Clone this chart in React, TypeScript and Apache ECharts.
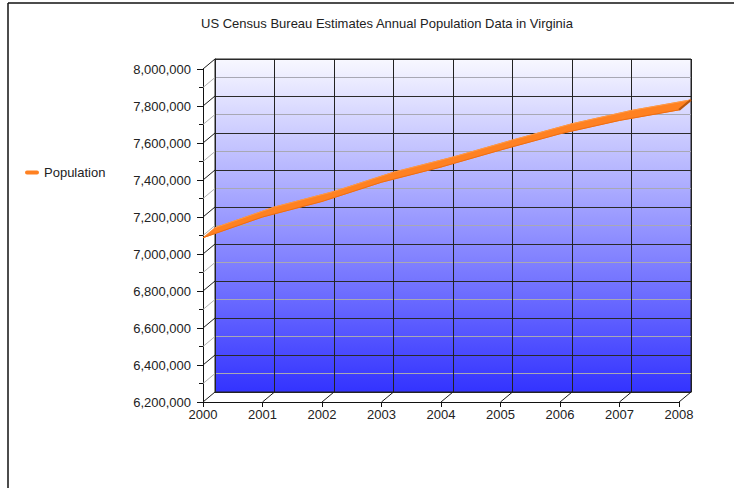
import React, { useEffect, useRef } from "react";
import * as echarts from "echarts";

const years = ["2000", "2001", "2002", "2003", "2004", "2005", "2006", "2007", "2008"];
const population = [7088000, 7200000, 7284000, 7388000, 7470000, 7562000, 7650000, 7722000, 7779000];
const yMin = 6200000;
const yMax = 8000000;
const yStep = 200000;
const wallTickValues = [
  6200000, 6300000, 6400000, 6500000, 6600000, 6700000, 6800000, 6900000, 7000000, 7100000,
  7200000, 7300000, 7400000, 7500000, 7600000, 7700000, 7800000, 7900000, 8000000,
];
const title = "US Census Bureau Estimates Annual Population Data in Virginia";
const seriesName = "Population";

const FONT = "'Liberation Sans', Arial, sans-serif";
const DX = 12;
const DY = -10;
const ORANGE = "#ff8122";

export default function App() {
  const ref = useRef<HTMLDivElement>(null);
  useEffect(() => {
    if (!ref.current) return;
    const chart = echarts.init(ref.current, null, { renderer: "svg" });

    const wallData: any[] = [];
    wallTickValues.forEach((v) => {
      wallData.push([0, v, (v - yMin) % yStep === 0 ? 1 : 0]);
    });
    years.forEach((_, i) => {
      if (i > 0) wallData.push([i, yMin, 1]);
    });

    const option: any = {
      animation: false,
      backgroundColor: "#ffffff",
      title: {
        text: title,
        left: 382,
        textAlign: "center",
        top: 12,
        textStyle: { fontFamily: FONT, fontSize: 13, fontWeight: "normal", color: "#222" },
      },
      legend: {
        orient: "vertical",
        left: 20,
        top: 161,
        itemWidth: 14,
        itemHeight: 5,
        data: [{ name: seriesName, icon: "path://M2,0 L12,0 A2,2 0 0 1 12,4 L2,4 A2,2 0 0 1 2,0 Z" }],
        textStyle: { fontFamily: FONT, fontSize: 13, color: "#222" },
      },
      graphic: [
        { type: "line", shape: { x1: 8, y1: 3, x2: 734, y2: 3 }, style: { stroke: "#111", lineWidth: 1.5 } },
        { type: "line", shape: { x1: 8, y1: 3, x2: 8, y2: 488 }, style: { stroke: "#111", lineWidth: 1.5 } },
      ],
      grid: [
        {
          left: 203 + DX,
          top: 69 + DY,
          width: 476,
          height: 333,
          show: true,
          borderColor: "#222",
          borderWidth: 1,
          backgroundColor: {
            type: "linear",
            x: 0,
            y: 0,
            x2: 0,
            y2: 1,
            colorStops: [
              { offset: 0, color: "#f8f8ff" },
              { offset: 1, color: "#3333ff" },
            ],
          },
        },
        { left: 203, top: 69, width: 476, height: 333 },
      ],
      xAxis: [
        {
          gridIndex: 0,
          type: "category",
          data: years,
          boundaryGap: false,
          axisLine: { show: true, lineStyle: { color: "#222" } },
          axisTick: { show: false },
          axisLabel: { show: false },
          splitLine: { show: true, lineStyle: { color: "#222", width: 1 } },
        },
        {
          gridIndex: 1,
          type: "category",
          data: years,
          boundaryGap: false,
          axisLine: { show: true, lineStyle: { color: "#111", width: 1 } },
          axisTick: { show: true, length: 5, lineStyle: { color: "#111" } },
          axisLabel: { margin: 6, fontFamily: FONT, fontSize: 13, color: "#222" },
          splitLine: { show: false },
        },
      ],
      yAxis: [
        {
          gridIndex: 0,
          type: "value",
          min: yMin,
          max: yMax,
          interval: yStep,
          axisLine: { show: true, lineStyle: { color: "#222" } },
          axisTick: { show: false },
          axisLabel: { show: false },
          splitLine: { show: true, lineStyle: { color: "#2a2a2a", width: 1 } },
          minorTick: { show: false, splitNumber: 2 },
          minorSplitLine: { show: true, lineStyle: { color: "#a8a8b4", width: 1 } },
        },
        {
          gridIndex: 1,
          type: "value",
          min: yMin,
          max: yMax,
          interval: yStep,
          axisLine: { show: true, lineStyle: { color: "#111", width: 1 } },
          axisTick: { show: true, length: 6, lineStyle: { color: "#111" } },
          minorTick: { show: true, splitNumber: 2, length: 4, lineStyle: { color: "#111" } },
          axisLabel: {
            margin: 12,
            fontFamily: FONT,
            fontSize: 13,
            color: "#222",
            formatter: (v: number) => v.toLocaleString("en-US"),
          },
          splitLine: { show: false },
        },
      ],
      series: [
        {
          type: "custom",
          name: "wall",
          xAxisIndex: 1,
          yAxisIndex: 1,
          clip: false,
          silent: true,
          z: 1,
          encode: { x: 0, y: 1 },
          data: wallData,
          renderItem: (params: any, api: any) => {
            const p = api.coord([api.value(0), api.value(1)]);
            const major = api.value(2) === 1;
            return {
              type: "line",
              shape: { x1: p[0], y1: p[1], x2: p[0] + DX, y2: p[1] + DY },
              style: { stroke: major ? "#1a1a1a" : "#b0b0b0", lineWidth: 1 },
            };
          },
        },
        {
          type: "custom",
          name: seriesName,
          xAxisIndex: 1,
          yAxisIndex: 1,
          clip: false,
          z: 3,
          itemStyle: { color: ORANGE },
          encode: { x: 0, y: 1 },
          data: population.map((v, i) => [i, v]),
          renderItem: (params: any, api: any) => {
            const i = params.dataIndex;
            const f0 = api.coord([i, population[i]]);
            if (i >= population.length - 1) {
              return {
                type: "line",
                shape: { x1: f0[0], y1: f0[1], x2: f0[0] + DX, y2: f0[1] + DY },
                style: { stroke: "#b8570f", lineWidth: 2 },
              };
            }
            const f1 = api.coord([i + 1, population[i + 1]]);
            const b0 = [f0[0] + DX, f0[1] + DY];
            const b1 = [f1[0] + DX, f1[1] + DY];
            return {
              type: "group",
              children: [
                {
                  type: "polygon",
                  shape: { points: [f0, f1, b1, b0] },
                  style: { fill: ORANGE, stroke: ORANGE, lineWidth: 0.8 },
                },
                {
                  type: "line",
                  shape: { x1: b0[0], y1: b0[1], x2: b1[0], y2: b1[1] },
                  style: { stroke: "#ff9a45", lineWidth: 1 },
                },
                {
                  type: "line",
                  shape: { x1: f0[0], y1: f0[1], x2: f1[0], y2: f1[1] },
                  style: { stroke: "#ee6d12", lineWidth: 1 },
                },
              ],
            };
          },
        },
      ],
    };
    chart.setOption(option);
    return () => chart.dispose();
  }, []);

  return (
    <div
      ref={ref}
      style={{ position: "fixed", left: 0, top: 0, width: 734, height: 488 }}
    />
  );
}
